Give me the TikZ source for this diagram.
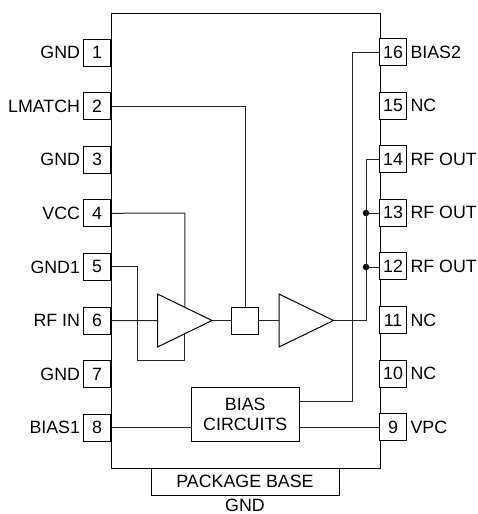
\documentclass[tikz,border=0pt]{standalone}
\usepackage{fontspec}
\setmainfont{Liberation Sans}
\usetikzlibrary{positioning, calc, shapes.geometric}
\tikzset{chip/.style = {
  rectangle,
  draw=black, fill=white,
  line width=1pt, outer sep=0pt, inner sep=0pt
  }}
\tikzset{pinbox/.style = {
  % Rectangle:
  chip,
  minimum width=27pt, minimum height=27pt
  }}
\tikzset{pinlabel/.style = {
  inner sep=0pt, outer sep=0pt
  }}
\tikzset{amp/.style = {
  isosceles triangle, isosceles triangle stretches,
  draw=black, fill=white, anchor=lower side,
  line width=1pt, outer sep=0pt, inner sep=0pt,
  minimum width=53pt, minimum height=54.5pt
  }}
\tikzset{wire/.style = {
  draw=black!85,
  line width=1pt
  }}
\tikzset{junction/.style = {
  circle, fill=black, inner sep=0pt, minimum size=6.5pt
  }}

\begin{document}
\begin{tikzpicture}[x=1pt, y=-1pt, node distance=26.6pt, font=\fontsize{17.8}{20.5}\selectfont]
% LAYERS
\pgfdeclarelayer{bg}
\pgfsetlayers{bg,main}
\useasboundingbox (0,0) rectangle (477,514);

% NODES
\node (base) [chip, minimum width=188pt, minimum height=27pt] at (245,481.5) {PACKAGE BASE};
\node (basegnd) [pinlabel] at (245,505) {GND};

% left pins
\node (pa) [pinbox] at (97,52.5) {1};
\node (pb) [pinbox, below= of pa] {2};
\node (pc) [pinbox, below= of pb] {3};
\node (pd) [pinbox, below= of pc] {4};
\node (pe) [pinbox, below= of pd] {5};
\node (pf) [pinbox, below= of pe] {6};
\node (pg) [pinbox, below= of pf] {7};
\node (ph) [pinbox, below= of pg] {8};

% right pins
\node (pp) [pinbox] at (393,52) {16};
\node (po) [pinbox, below= of pp] {15};
\node (pn) [pinbox, below= of po] {14};
\node (pm) [pinbox, below= of pn] {13};
\node (pl) [pinbox, below= of pm] {12};
\node (pk) [pinbox, below= of pl] {11};
\node (pj) [pinbox, below= of pk] {10};
\node (pi) [pinbox, below= of pj] {9};

% pin labels
\node (la) [pinlabel, left=3.5pt of pa] {GND};
\node (lb) [pinlabel, left=3.5pt of pb] {LMATCH};
\node (lc) [pinlabel, left=3.5pt of pc] {GND};
\node (ld) [pinlabel, left=3.5pt of pd] {VCC};
\node (le) [pinlabel, left=3.5pt of pe] {GND1};
\node (lf) [pinlabel, left=3.5pt of pf] {RF IN};
\node (lg) [pinlabel, left=3.5pt of pg] {GND};
\node (lh) [pinlabel, left=3.5pt of ph] {BIAS1};
\node (lp) [pinlabel, right=4pt of pp] {BIAS2};
\node (lo) [pinlabel, right=4pt of po] {NC};
\node (ln) [pinlabel, right=4pt of pn] {RF OUT};
\node (lm) [pinlabel, right=4pt of pm] {RF OUT};
\node (ll) [pinlabel, right=4pt of pl] {RF OUT};
\node (lk) [pinlabel, right=4pt of pk] {NC};
\node (lj) [pinlabel, right=4pt of pj] {NC};
\node (li) [pinlabel, right=4pt of pi] {VPC};

% inner blocks
\node (ampa) [amp] at (157.5,320.5) {};
\node (match) [pinbox] at (245,320.5) {};
\node (ampb) [amp] at (279,320.5) {};
\node (bias) [chip, minimum width=107.5pt, minimum height=53.5pt, align=center] at (245.25,414.25) {BIAS\\CIRCUITS};

% corner points
\coordinate (vccdrop) at (184.75,213);
\coordinate (gndleft) at (137.5,360.5);
\coordinate (gndright) at (184.75,360.5);
\coordinate (outrail) at (366,320.5);
\coordinate (biasrail) at (352.5,401);
\node (dotm) [junction] at (366,213) {};
\node (dotl) [junction] at (366,267) {};

% arrows
\begin{pgfonlayer}{bg}
\node (package) [chip, minimum width=269pt, minimum height=455pt] at (245.5,240.5) {};
\draw [wire] (pb.east) -| (match.north);
\draw [wire] (pd.east) -- (vccdrop) -- (vccdrop |- ampa.lower side);
\draw [wire] (pe.east) -| (gndleft) -- (gndright) -- (gndright |- ampa.lower side);
\end{pgfonlayer}
\draw [wire] (pf.east) -- (ampa.lower side);
\draw [wire] (ampa.apex) -- (match.west);
\draw [wire] (match.east) -- (ampb.lower side);
\draw [wire] (ampb.apex) -- (outrail) |- (pn.west);
\draw [wire] (dotm) -- (dotm -| pm.west);
\draw [wire] (dotl) -- (dotl -| pl.west);
\draw [wire] (bias.east |- biasrail) -- (biasrail) |- (pp.west);
\draw [wire] (ph.east) -- (ph.east -| bias.west);
\draw [wire] (pi.west -| bias.east) -- (pi.west);
\end{tikzpicture}
\end{document}
